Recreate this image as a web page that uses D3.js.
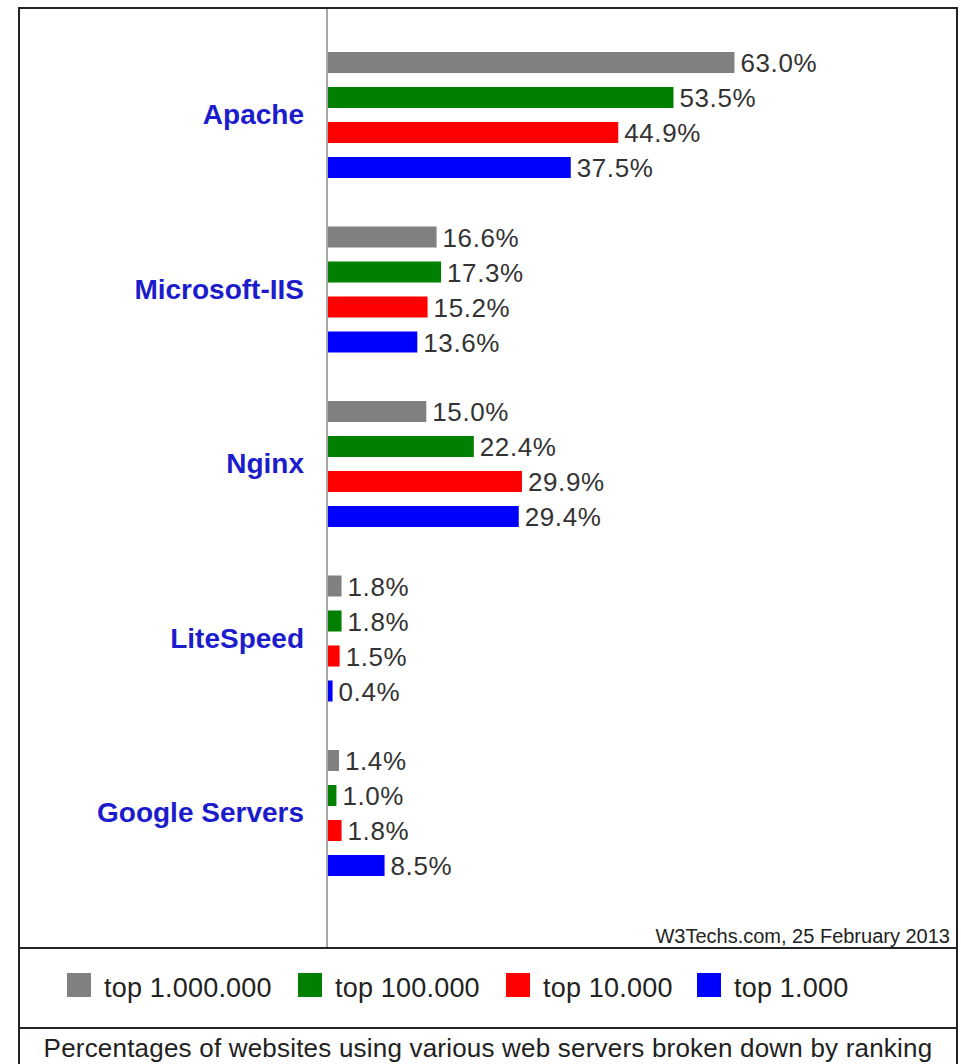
<!DOCTYPE html>
<html>
<head>
<meta charset="utf-8">
<script src="https://cdn.jsdelivr.net/npm/d3@7"></script>
<style>
  body { margin: 0; background: #fff; }
  text { font-family: "Liberation Sans", Arial, sans-serif; }
</style>
</head>
<body>
<script>
// web server usage by site ranking, W3Techs Feb 2013
let servers = ["Apache", "Microsoft-IIS", "Nginx", "LiteSpeed", "Google Servers"];
let rankings = ["top 1.000.000", "top 100.000", "top 10.000", "top 1.000"];
let colors = ["#808080", "#008000", "#ff0000", "#0000ff"];
let top1m   = [63.0, 16.6, 15.0, 1.8, 1.4];
let top100k = [53.5, 17.3, 22.4, 1.8, 1.0];
let top10k  = [44.9, 15.2, 29.9, 1.5, 1.8];
let top1k   = [37.5, 13.6, 29.4, 0.4, 8.5];
let series = [top1m, top100k, top10k, top1k];

let W = 961, H = 1064;
let axisX = 327;
let frameL = 19, frameR = 957, frameT = 8;
let plotBottom = 948, legendBottom = 1028;

let svg = d3.select("body")
            .append("svg")
            .attr("width", W)
            .attr("height", H);

let x = d3.scaleLinear().domain([0, 100]).range([330, 972]);
let groupY = d3.scalePoint().domain(servers).range([52, 52 + 4 * 174.5]);

let cells = [];
series.forEach((vals, si) => {
    vals.forEach((v, ci) => cells.push({server: servers[ci], s: si, v: v}));
});

// axis line
svg.append("line")
   .attr("x1", axisX).attr("x2", axisX)
   .attr("y1", frameT).attr("y2", plotBottom)
   .attr("stroke", "#8a8a8a")
   .attr("stroke-width", 1.5);

svg.selectAll("rect.bar")
   .data(cells)
   .enter()
   .append("rect")
   .attr("class", "bar")
   .attr("x", axisX + 1)
   .attr("y", d => groupY(d.server) + d.s * 35)
   .attr("width", d => x(d.v) - axisX - 1)
   .attr("height", 21)
   .attr("fill", d => colors[d.s]);

svg.selectAll("text.val")
   .data(cells)
   .enter()
   .append("text")
   .attr("class", "val")
   .attr("x", d => x(d.v) + 6)
   .attr("y", d => groupY(d.server) + d.s * 35 + 20)
   .attr("font-size", 26)
   .attr("letter-spacing", 0.6)
   .attr("fill", "#333")
   .text(d => d.v.toFixed(1) + "%");

svg.selectAll("text.cat")
   .data(servers)
   .enter()
   .append("text")
   .attr("class", "cat")
   .attr("x", 304)
   .attr("y", d => groupY(d) + 72)
   .attr("text-anchor", "end")
   .attr("font-size", 28)
   .attr("font-weight", "bold")
   .attr("fill", "#1c1ccc")
   .text(d => d);

svg.append("text")
   .attr("x", 950)
   .attr("y", 943)
   .attr("text-anchor", "end")
   .attr("font-size", 20)
   .attr("fill", "#222")
   .text("W3Techs.com, 25 February 2013");

// legend
let legX = [67, 298, 506, 697];
let leg = svg.selectAll("g.leg")
   .data(rankings)
   .enter()
   .append("g")
   .attr("class", "leg")
   .attr("transform", (d, i) => "translate(" + legX[i] + ",973)");
leg.append("rect")
   .attr("width", 24).attr("height", 24)
   .attr("fill", (d, i) => colors[i]);
leg.append("text")
   .attr("x", 37)
   .attr("y", 24)
   .attr("font-size", 27)
   .attr("letter-spacing", 0.2)
   .attr("fill", "#222")
   .text(d => d);

svg.append("text")
   .attr("x", (frameL + frameR) / 2)
   .attr("y", 1057)
   .attr("text-anchor", "middle")
   .attr("font-size", 26)
   .attr("letter-spacing", 0.2)
   .attr("fill", "#222")
   .text("Percentages of websites using various web servers broken down by ranking");

// frame
svg.append("rect")
   .attr("x", frameL).attr("y", frameT)
   .attr("width", frameR - frameL).attr("height", H + 10 - frameT)
   .attr("fill", "none")
   .attr("stroke", "#222")
   .attr("stroke-width", 2);
[plotBottom, legendBottom].forEach(yy => {
    svg.append("line")
       .attr("x1", frameL).attr("x2", frameR)
       .attr("y1", yy).attr("y2", yy)
       .attr("stroke", "#222")
       .attr("stroke-width", 2);
});
</script>
</body>
</html>
